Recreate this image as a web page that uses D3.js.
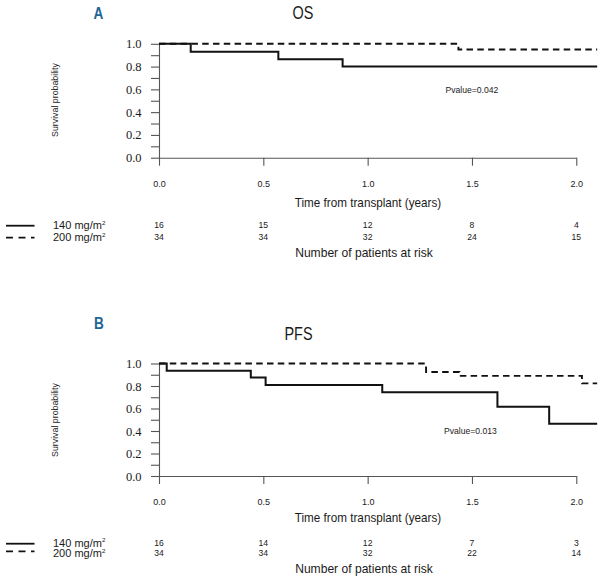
<!DOCTYPE html>
<html>
<head>
<meta charset="utf-8">
<script src="https://cdn.jsdelivr.net/npm/d3@7"></script>
<style>
  html, body { margin: 0; padding: 0; background: #fff; }
  svg { display: block; }
  text { font-family: "Liberation Sans", Arial, sans-serif; fill: #1a1a1a; }
</style>
</head>
<body>
<svg id="chart" width="613" height="582"></svg>
<script>
// ---------------- DATA ----------------
const X_TICKS = [0, 0.5, 1.0, 1.5, 2.0];
const Y_TICKS = [0, 0.1, 0.2, 0.3, 0.4, 0.5, 0.6, 0.7, 0.8, 0.9, 1.0];
const END_TIME = 2.1;
const GROUP_LABELS = ["140 mg/m", "200 mg/m"];

// OS (panel A)
const OS_140_TIMES = [0, 0.152, 0.572, 0.88];
const OS_140_SURV  = [1.0, 0.93, 0.865, 0.80];
const OS_200_TIMES = [0, 1.435];
const OS_200_SURV  = [1.0, 0.95];
const OS_RISK_140  = [16, 15, 12, 8, 4];
const OS_RISK_200  = [34, 34, 32, 24, 15];
const OS_PVALUE    = "Pvalue=0.042";

// PFS (panel B)
const PFS_140_TIMES = [0, 0.037, 0.44, 0.511, 1.07, 1.622, 1.87];
const PFS_140_SURV  = [1.0, 0.935, 0.875, 0.81, 0.745, 0.615, 0.465];
const PFS_200_TIMES = [0, 1.28, 1.44, 2.027];
const PFS_200_SURV  = [1.0, 0.925, 0.89, 0.823];
const PFS_RISK_140  = [16, 14, 12, 7, 3];
const PFS_RISK_200  = [34, 34, 32, 22, 14];
const PFS_PVALUE    = "Pvalue=0.013";

// ---------------- DRAW ----------------
const svg = d3.select("#chart");

function narrowText(parent, x, y, str, opts) {
  const g = parent.append("g")
    .attr("transform", `translate(${x},${y}) scale(${opts.sx || 1},1)`);
  const t = g.append("text")
    .attr("text-anchor", opts.anchor || "middle")
    .attr("dominant-baseline", "central")
    .style("font-size", opts.size + "px");
  if (opts.weight) t.style("font-weight", opts.weight);
  if (opts.fill) t.style("fill", opts.fill);
  if (opts.family) t.style("font-family", opts.family);
  t.text(str);
  return t;
}

function panel(cfg) {
  const x = d3.scaleLinear().domain([0, 2]).range([159, 576.3]);
  const y = d3.scaleLinear().domain([0, 1]).range([cfg.yBottom, cfg.yTop]);

  // panel letter
  narrowText(svg, cfg.letterX, cfg.letterY, cfg.letter,
    { size: 17, sx: 0.8, weight: "bold", fill: "#1f6695" });
  // title
  narrowText(svg, cfg.titleX, cfg.titleY, cfg.title, { size: 19, sx: 0.76 });

  // y axis
  const yAxis = d3.axisLeft(y)
    .tickValues(Y_TICKS)
    .tickSize(8)
    .tickSizeOuter(0)
    .tickPadding(9.5)
    .tickFormat(d => (Math.round(d * 10) % 2 === 0 ? d3.format(".1f")(d) : ""));
  const gy = svg.append("g").attr("transform", `translate(${x(0)},0)`).call(yAxis);
  gy.attr("font-family", null);
  gy.selectAll("path, line").attr("stroke", "#555").attr("stroke-width", 1.1);
  gy.selectAll("text")
    .style("font-family", '"Liberation Serif", "Times New Roman", serif')
    .style("font-size", "12.5px")
    .attr("fill", "#222");

  // x axis
  const xAxis = d3.axisBottom(x)
    .tickValues(X_TICKS)
    .tickSize(8)
    .tickSizeOuter(0)
    .tickPadding(cfg.xLabelPad)
    .tickFormat(d3.format(".1f"));
  const gx = svg.append("g").attr("transform", `translate(0,${y(0)})`).call(xAxis);
  gx.selectAll("path, line").attr("stroke", "#555").attr("stroke-width", 1.1);
  gx.selectAll("text").style("font-size", "9px").attr("fill", "#222");

  // y axis label
  svg.append("text")
    .attr("transform", `translate(55,${cfg.yLabelY}) rotate(-90)`)
    .attr("text-anchor", "middle")
    .attr("dominant-baseline", "central")
    .style("font-size", "8.8px")
    .attr("fill", "#222")
    .text("Survival probability");

  // curves
  const line = d3.line()
    .x(d => x(d[0]))
    .y(d => y(d[1]))
    .curve(d3.curveStepAfter);
  const mk = (times, surv) => {
    const pts = times.map((t, i) => [t, surv[i]]);
    pts.push([END_TIME, surv[surv.length - 1]]);
    return pts;
  };
  svg.append("path")
    .datum(mk(cfg.t200, cfg.s200))
    .attr("d", line)
    .attr("fill", "none")
    .attr("stroke", "#111")
    .attr("stroke-width", 1.9)
    .attr("stroke-dasharray", "6.5,4.3");
  svg.append("path")
    .datum(mk(cfg.t140, cfg.s140))
    .attr("d", line)
    .attr("fill", "none")
    .attr("stroke", "#111")
    .attr("stroke-width", 2);

  // p value
  svg.append("text")
    .attr("x", cfg.pX)
    .attr("y", cfg.pY)
    .attr("dominant-baseline", "central")
    .style("font-size", "8.6px")
    .attr("fill", "#222")
    .text(cfg.pvalue);

  // x axis title
  narrowText(svg, 368, cfg.timeY, "Time from transplant (years)", { size: 13, sx: 0.9 });

  // legend / at-risk table
  const rows = [
    { label: GROUP_LABELS[0], risk: cfg.r140, ly: cfg.row1, lineY: cfg.line1, dash: null },
    { label: GROUP_LABELS[1], risk: cfg.r200, ly: cfg.row2, lineY: cfg.line2, dash: "7,5.5" }
  ];
  rows.forEach(r => {
    svg.append("line")
      .attr("x1", 6).attr("x2", 34.5)
      .attr("y1", r.lineY).attr("y2", r.lineY)
      .attr("stroke", "#111")
      .attr("stroke-width", 1.8)
      .attr("stroke-dasharray", r.dash);
    const t = narrowText(svg, 53, r.ly, "", { size: 11, sx: 1.0, anchor: "start" });
    t.append("tspan").text(r.label);
    t.append("tspan").attr("dy", -3.5).style("font-size", "6.2px").text("2");
    svg.selectAll(null)
      .data(r.risk)
      .enter()
      .append("text")
      .attr("x", (d, i) => x(X_TICKS[i]))
      .attr("y", r.ly)
      .attr("text-anchor", "middle")
      .attr("dominant-baseline", "central")
      .style("font-size", "8.6px")
      .attr("fill", "#222")
      .text(d => d);
  });

  narrowText(svg, 364, cfg.numY, "Number of patients at risk", { size: 13, sx: 0.93 });
}

panel({
  letter: "A", letterX: 98.5, letterY: 13,
  title: "OS", titleX: 303, titleY: 13,
  yTop: 43.8, yBottom: 157.7, yLabelY: 100, xLabelPad: 14.5,
  t140: OS_140_TIMES, s140: OS_140_SURV, t200: OS_200_TIMES, s200: OS_200_SURV,
  r140: OS_RISK_140, r200: OS_RISK_200, pvalue: OS_PVALUE, pX: 445.5, pY: 90,
  timeY: 203, row1: 225.3, row2: 237, line1: 225.7, line2: 237.7, numY: 253.3
});

panel({
  letter: "B", letterX: 99, letterY: 323,
  title: "PFS", titleX: 298.5, titleY: 334,
  yTop: 363.5, yBottom: 476, yLabelY: 420, xLabelPad: 15,
  t140: PFS_140_TIMES, s140: PFS_140_SURV, t200: PFS_200_TIMES, s200: PFS_200_SURV,
  r140: PFS_RISK_140, r200: PFS_RISK_200, pvalue: PFS_PVALUE, pX: 444, pY: 431,
  timeY: 518, row1: 542.5, row2: 553.2, line1: 543.7, line2: 551.3, numY: 569
});
</script>
</body>
</html>
